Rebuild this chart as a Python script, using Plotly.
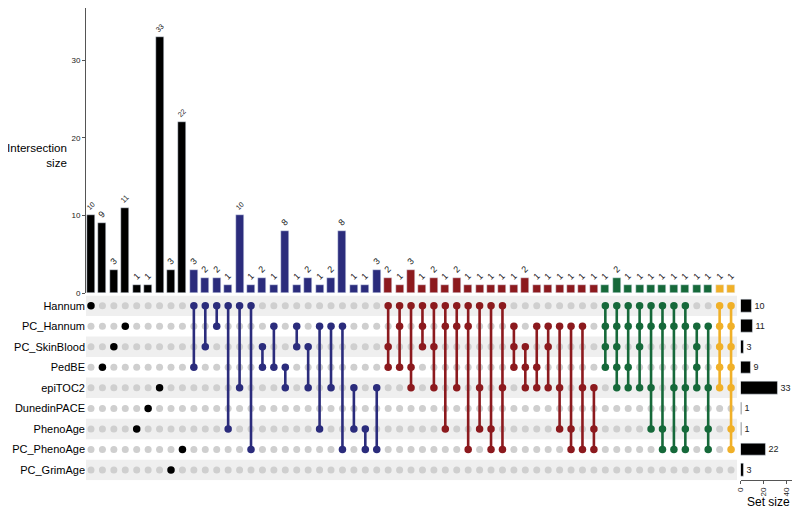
import plotly.graph_objects as go

# Sets (matrix rows, top to bottom) and their sizes
sets = ["Hannum", "PC_Hannum", "PC_SkinBlood", "PedBE", "epiTOC2",
        "DunedinPACE", "PhenoAge", "PC_PhenoAge", "PC_GrimAge"]
set_sizes = [10, 11, 3, 9, 33, 1, 1, 22, 3]

# Intersections, left to right, grouped by colour
single = ["Hannum", "PedBE", "PC_SkinBlood", "PC_Hannum", "PhenoAge",
          "DunedinPACE", "epiTOC2", "PC_GrimAge", "PC_PhenoAge"]
single_sizes = [10, 9, 3, 11, 1, 1, 33, 3, 22]

pairs = ["Hannum&PedBE", "Hannum&PC_SkinBlood", "Hannum&PC_Hannum",
         "Hannum&PhenoAge", "Hannum&epiTOC2", "Hannum&PC_PhenoAge",
         "PC_SkinBlood&PedBE", "PC_Hannum&PedBE", "PedBE&epiTOC2",
         "PC_Hannum&PC_SkinBlood", "PC_SkinBlood&epiTOC2", "PC_Hannum&PhenoAge",
         "PC_Hannum&epiTOC2", "PC_Hannum&PC_PhenoAge", "epiTOC2&PhenoAge",
         "PhenoAge&PC_PhenoAge", "epiTOC2&PC_PhenoAge"]
pair_sizes = [3, 2, 2, 1, 10, 1, 2, 1, 8, 1, 2, 1, 2, 8, 1, 1, 3]

triples = ["Hannum&PC_SkinBlood&PedBE", "Hannum&PC_Hannum&PedBE",
           "Hannum&PedBE&epiTOC2", "Hannum&PC_Hannum&PC_SkinBlood",
           "Hannum&PC_SkinBlood&epiTOC2", "Hannum&PC_Hannum&PhenoAge",
           "Hannum&PC_Hannum&epiTOC2", "Hannum&PC_Hannum&PC_PhenoAge",
           "Hannum&epiTOC2&PhenoAge", "Hannum&PhenoAge&PC_PhenoAge",
           "Hannum&epiTOC2&PC_PhenoAge", "PC_Hannum&PC_SkinBlood&PedBE",
           "PC_SkinBlood&PedBE&epiTOC2", "PC_Hannum&PedBE&epiTOC2",
           "PC_Hannum&PC_SkinBlood&epiTOC2", "PC_Hannum&epiTOC2&PhenoAge",
           "PC_Hannum&PhenoAge&PC_PhenoAge", "PC_Hannum&epiTOC2&PC_PhenoAge",
           "epiTOC2&PhenoAge&PC_PhenoAge"]
triple_sizes = [2, 1, 3, 1, 2, 1, 2, 1, 1, 1, 1, 1, 2, 1, 1, 1, 1, 1, 1]

quads = ["Hannum&PC_Hannum&PC_SkinBlood&PedBE",
         "Hannum&PC_Hannum&PC_SkinBlood&PedBE&epiTOC2",
         "Hannum&PC_Hannum&PedBE&epiTOC2",
         "Hannum&PC_Hannum&PC_SkinBlood&epiTOC2",
         "Hannum&PC_Hannum&epiTOC2&PhenoAge",
         "Hannum&PC_Hannum&PhenoAge&PC_PhenoAge",
         "Hannum&PC_Hannum&epiTOC2&PC_PhenoAge",
         "Hannum&PC_Hannum&epiTOC2&PhenoAge&PC_PhenoAge",
         "PC_Hannum&PC_SkinBlood&PedBE&epiTOC2",
         "PC_Hannum&epiTOC2&PhenoAge&PC_PhenoAge"]
quad_sizes = [1, 2, 1, 1, 1, 1, 1, 1, 1, 1]

many = ["Hannum&PC_Hannum&PC_SkinBlood&PedBE&epiTOC2",
        "Hannum&PC_Hannum&PC_SkinBlood&PedBE&epiTOC2&PhenoAge&PC_PhenoAge"]
many_sizes = [1, 1]

group_colors = ["#000000", "#2b2c7c", "#8c1a1e", "#16693a", "#f0b028"]

groups = [single, pairs, triples, quads, many]
group_sizes = [single_sizes, pair_sizes, triple_sizes, quad_sizes, many_sizes]

cols, sizes, colors = [], [], []
for g, (names, vals) in enumerate(zip(groups, group_sizes)):
    for nm, v in zip(names, vals):
        cols.append([sets.index(s) for s in nm.split("&")])
        sizes.append(v)
        colors.append(group_colors[g])

n = len(cols)
xs = list(range(n))
FONT = "Liberation Sans, Arial, sans-serif"

# the page body has an 8px margin, so the figure is shrunk and shifted
W, H, OFF = 792, 501, 8


def px(x):
    return (x - OFF) / W


def py(y):
    return 1 - (y - OFF) / H


fig = go.Figure()

# intersection size bars
fig.add_trace(go.Bar(
    x=xs, y=sizes, marker_color=colors, width=0.7,
    text=sizes, textposition="outside", textangle=-45,
    outsidetextfont=dict(size=9, color="#222"), cliponaxis=False,
    xaxis="x", yaxis="y", showlegend=False, hoverinfo="skip"
))

# grey background dots
gx, gy = [], []
for i, c in enumerate(cols):
    for r in range(len(sets)):
        if r not in c:
            gx.append(i)
            gy.append(r)
fig.add_trace(go.Scatter(
    x=gx, y=gy, mode="markers", marker=dict(size=7, color="#cfcfcf"),
    xaxis="x2", yaxis="y2", showlegend=False, hoverinfo="skip"
))

# connecting lines and member dots, one trace per colour
for col in group_colors:
    lx, ly, dx, dy = [], [], [], []
    for i, c in enumerate(cols):
        if colors[i] != col:
            continue
        if len(c) > 1:
            lx += [i, i, None]
            ly += [min(c), max(c), None]
        for r in c:
            dx.append(i)
            dy.append(r)
    if lx:
        fig.add_trace(go.Scatter(
            x=lx, y=ly, mode="lines", line=dict(color=col, width=2.6),
            xaxis="x2", yaxis="y2", showlegend=False, hoverinfo="skip"
        ))
    fig.add_trace(go.Scatter(
        x=dx, y=dy, mode="markers", marker=dict(size=7.5, color=col),
        xaxis="x2", yaxis="y2", showlegend=False, hoverinfo="skip"
    ))

# set size bars
fig.add_trace(go.Bar(
    x=set_sizes, y=list(range(len(sets))), orientation="h",
    marker_color="#000000", width=0.62,
    text=set_sizes, textposition="outside",
    outsidetextfont=dict(size=9, color="#222"), cliponaxis=False,
    xaxis="x3", yaxis="y3", showlegend=False, hoverinfo="skip"
))

# alternating row shading
shapes = []
for r in range(0, len(sets), 2):
    shapes.append(dict(
        type="rect", xref="paper", yref="y2",
        x0=px(86), x1=px(737), y0=r - 0.5, y1=r + 0.5,
        fillcolor="#efefef", line_width=0, layer="below"
    ))

xdom = [px(86), px(737)]
mdom = [py(480.3), py(295.4)]
xrange = [-0.437, 56.52]

fig.update_layout(
    width=W, height=H,
    margin=dict(l=0, r=0, t=0, b=0, autoexpand=False),
    paper_bgcolor="white", plot_bgcolor="rgba(0,0,0,0)",
    font=dict(family=FONT, color="#000"),
    bargap=0,
    shapes=shapes,
    xaxis=dict(domain=xdom, range=xrange, visible=False, anchor="y",
               automargin=False),
    yaxis=dict(domain=[py(293), 1], range=[0, 36.77],
               anchor="x", showline=True, linecolor="#555", linewidth=1,
               ticks="outside", ticklen=3, tickcolor="#555",
               tickvals=[0, 10, 20, 30], tickfont=dict(size=8, color="#222"),
               showgrid=False, zeroline=False, automargin=False),
    xaxis2=dict(domain=xdom, range=xrange, visible=False, anchor="y2",
                automargin=False),
    yaxis2=dict(domain=mdom, range=[8.5, -0.5], anchor="x2",
                tickvals=list(range(len(sets))), ticktext=sets,
                tickfont=dict(size=11, color="#000"), ticks="",
                showgrid=False, zeroline=False, showline=False,
                automargin=False),
    xaxis3=dict(domain=[px(740.7), px(791.7)], range=[0, 44.9], anchor="y3",
                showline=True, linecolor="#555", linewidth=1,
                ticks="outside", ticklen=3, tickcolor="#555",
                tickvals=[0, 20, 40], tickangle=-90,
                tickfont=dict(size=8, color="#222"),
                showgrid=False, zeroline=False, automargin=False),
    yaxis3=dict(domain=mdom, range=[8.5, -0.5], anchor="x3", visible=False,
                automargin=False),
    annotations=[
        dict(text="Intersection<br>size", xref="paper", yref="paper",
             x=px(69), y=py(155), xanchor="right", yanchor="middle",
             align="right", showarrow=False,
             font=dict(size=11.6, color="#000")),
        dict(text="Set size", xref="paper", yref="paper",
             x=px(768), y=py(502), xanchor="center", yanchor="middle",
             showarrow=False, font=dict(size=12, color="#000")),
    ],
)

fig.write_html("out.html")
